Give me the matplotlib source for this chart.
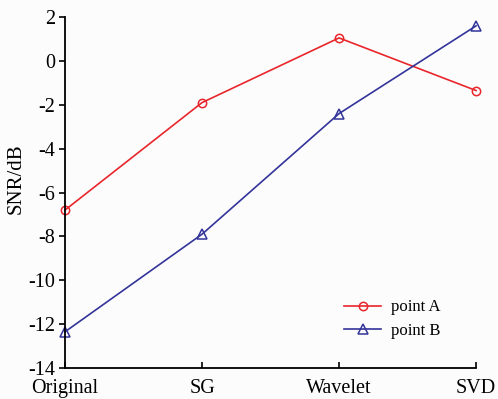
import matplotlib
matplotlib.use("Agg")
import matplotlib.pyplot as plt

methods = ["Original", "SG", "Wavelet", "SVD"]
snr_a = [-6.8, -1.9, 1.05, -1.35]
snr_b = [-12.35, -7.9, -2.4, 1.6]

plt.rcParams['font.family'] = ['Liberation Serif', 'DejaVu Serif']
plt.rcParams['axes.unicode_minus'] = False

fig = plt.figure(figsize=(4.98, 3.99), dpi=100)
ax = fig.add_axes([0.1305, 0.0777, 0.8255, 0.8795])
fig.patch.set_facecolor('#fcfcfc')
ax.set_facecolor('#fcfcfc')

x = range(len(methods))
ax.plot(x, snr_a, color='#e8262c', lw=1.2, marker='o', ms=6, mfc='none', mew=1.1, label='point A')
ax.plot(x, snr_b, color='#33349a', lw=1.2, marker='^', ms=6.5, mfc='none', mew=1.1, label='point B')

ax.set_xlim(0, 3)
ax.set_ylim(-14, 2)
ax.set_xticks(list(x))
ax.set_xticklabels(methods)
ax.set_yticks(range(-14, 3, 2))
ax.set_ylabel('SNR/dB', fontsize=15, labelpad=3)
ax.yaxis.set_label_coords(-0.095, 0.54)
ax.tick_params(axis='both', labelsize=14.5, width=1.2)
ax.tick_params(axis='y', direction='out', length=4, pad=3)
ax.tick_params(axis='x', direction='in', length=4, pad=8)
for s in ['top', 'right']:
    ax.spines[s].set_visible(False)
for s in ['left', 'bottom']:
    ax.spines[s].set_linewidth(1.3)
    ax.spines[s].set_clip_on(False)
for line in ax.lines:
    line.set_clip_on(False)

ax.legend(loc='lower right', bbox_to_anchor=(0.95, 0.04), frameon=False, fontsize=12,
          handlelength=2.2, handletextpad=0.6, labelspacing=0.45)

fig.savefig('out.png', dpi=100, facecolor=fig.get_facecolor())
